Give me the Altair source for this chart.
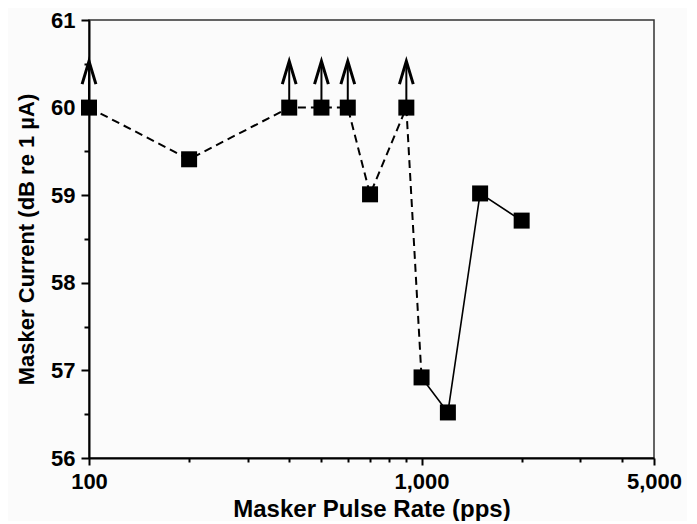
import altair as alt
import pandas as pd

# Data
rate = [100, 200, 400, 500, 600, 700, 900, 1000, 1200, 1500, 2000]
current = [60.0, 59.41, 60.0, 60.0, 60.0, 59.01, 60.0, 56.92, 56.52, 59.02, 58.71]
censored = [True, False, True, True, True, False, True, False, False, False, False]
# dashed line runs from 100 to 1000 pps, solid from 1000 onwards
dashed_upto = 1000

x_ticks = [100, 200, 300, 400, 500, 600, 700, 800, 900, 1000, 2000, 3000, 4000, 5000]
y_ticks = [56, 56.5, 57, 57.5, 58, 58.5, 59, 59.5, 60, 60.5, 61]

pts = pd.DataFrame({"rate": rate, "current": current, "censored": censored})
dashed_df = pts[pts["rate"] <= dashed_upto]
solid_df = pts[pts["rate"] >= dashed_upto]

FONT = "Liberation Sans"

xscale = alt.Scale(type="log", domain=[100, 5000], nice=False)
yscale = alt.Scale(domain=[56, 61], nice=False, zero=False)

x_major = "datum.value == 100 || datum.value == 1000 || datum.value == 5000"
xaxis = alt.Axis(
    values=x_ticks,
    labelExpr=f"({x_major}) ? format(datum.value, ',') : ''",
    title="Masker Pulse Rate (pps)",
    grid=False,
    labelFlush=False,
    labelOverlap=False,
    tickSize={"condition": {"test": x_major, "value": 7}, "value": 4},
    tickWidth=2,
    tickColor="black",
    domainColor="black",
    domainWidth=2,
    labelPadding=6,
    titlePadding=5,
    labelFontSize=22,
    titleFontSize=24,
)
yaxis = alt.Axis(
    values=y_ticks,
    labelExpr="datum.value % 1 == 0 ? format(datum.value, 'd') : ''",
    title="Masker Current (dB re 1 µA)",
    grid=False,
    labelFlush=False,
    labelOverlap=False,
    tickSize={"condition": {"test": "datum.value % 1 != 0", "value": 5}, "value": 8},
    tickWidth=2,
    tickColor="black",
    domainColor="black",
    domainWidth=2,
    labelPadding=6,
    titlePadding=12,
    labelFontSize=22,
    titleFontSize=22,
)

X = alt.X("rate:Q", scale=xscale, axis=xaxis)
Y = alt.Y("current:Q", scale=yscale, axis=yaxis)

dashed = alt.Chart(dashed_df).mark_line(
    color="black", strokeWidth=2, strokeDash=[8, 5]
).encode(x=X, y=Y)

solid = alt.Chart(solid_df).mark_line(color="black", strokeWidth=1.6).encode(x=X, y=Y)

arrow_base = alt.Chart(pts).transform_filter("datum.censored").transform_calculate(
    tip="datum.current + 0.53"
)
shaft = arrow_base.mark_rule(color="black", strokeWidth=2).encode(
    x="rate:Q", y="current:Q", y2="tip:Q"
)
head = arrow_base.mark_point(
    shape="M-0.3,1 L0,0 L0.3,1",
    filled=False,
    color="black",
    strokeWidth=3,
    size=2116,
    opacity=1,
).encode(x="rate:Q", y="tip:Q")

squares = alt.Chart(pts).mark_square(
    size=256, color="black", opacity=1, filled=True
).encode(x=X, y=Y)

chart = (
    alt.layer(dashed, solid, shaft, head, squares)
    .properties(
        width=565,
        height=438,
        background="#fbfbfb",
        padding={"left": 7, "top": 1, "right": 5, "bottom": 0},
    )
    .configure_view(stroke="#333333", strokeWidth=1.5)
    .configure_axis(
        labelFont=FONT,
        titleFont=FONT,
        labelFontWeight="bold",
        titleFontWeight="bold",
        labelColor="black",
        titleColor="black",
    )
)

chart.save("out.html", embed_options={"renderer": "svg", "actions": False})
